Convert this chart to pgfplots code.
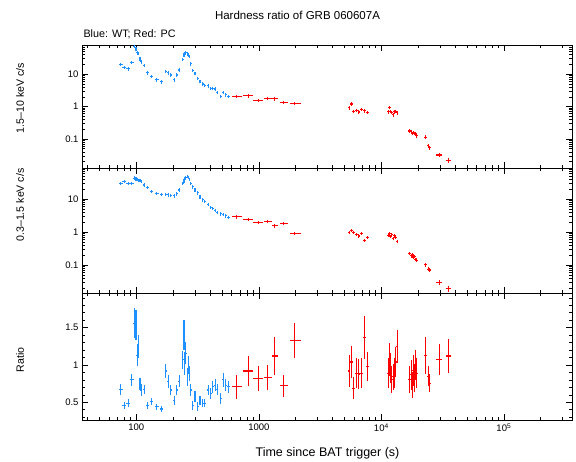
\documentclass[border=0pt]{standalone}
\usepackage{fontspec}
\setmainfont{Liberation Sans}
\usepackage{pgfplots}
\usepackage{pgfplotstable}
\pgfplotsset{compat=1.18}
\definecolor{wtblue}{RGB}{30,144,255}
\definecolor{pcred}{RGB}{255,0,0}

\pgfplotstableread{
x xe top tope mid mide r re
74.6 3 20 2.4 30 3.6 0.674 0.07
80 3 16.5 2.0 35 4.2 0.46 0.05
86 3.4 14.8 1.8 30 3.6 0.49 0.05
91.6 3.6 23 2.8 30 3.6 0.80 0.08
95.8 1.9 72 8.6 44 5.3 1.56 0.20
99.4 2 60 7.2 41 4.9 1.54 0.20
101.9 2 46 5.5 40 4.8 1.13 0.15
103.8 2 44 5.3 38 4.6 1.25 0.15
107 2 30 3.6 37 4.4 0.75 0.08
110 2.2 24 2.9 35 4.2 0.665 0.08
115.6 2.5 19 2.3 27 3.2 0.674 0.06
123 3 11 1.3 23 2.8 0.46 0.05
133.5 4 8.4 1.0 17 2.0 0.51 0.05
146.7 5 6.7 0.8 15 1.8 0.44 0.04
161 5 5.8 0.7 14 1.7 0.41 0.04
174 3.5 12.4 1.5 14 1.7 0.92 0.09
182 3.5 11 1.3 13.5 1.6 0.78 0.09
191 3.5 9.5 1.1 13.2 1.6 0.665 0.07
204 4 6.7 0.8 12.6 1.5 0.53 0.06
214 4 9.5 1.1 14.5 1.7 0.665 0.07
224 4 13.5 1.6 19 2.3 0.78 0.08
239 2.5 29 3.5 30 3.6 1.07 0.12
245 2 40 4.8 36 4.3 1.40 0.20
249 2 42 5.0 41 4.9 1.02 0.15
254 2 48 5.8 46 5.5 1.16 0.15
260 2 43 5.2 50 6.0 0.84 0.12
265 2.5 40 4.8 46 5.5 1.0 0.12
271 3 35 4.2 40 4.8 0.88 0.10
279 4 21 2.5 30 3.6 0.665 0.08
288 4 13 1.6 24 2.9 0.46 0.06
301 5 10.8 1.3 19 2.3 0.575 0.07
316 5 7.5 0.9 15.5 1.9 0.44 0.06
331 6 6.0 0.7 11.7 1.4 0.53 0.06
348 6 5.0 0.6 9.6 1.2 0.49 0.05
363 7 4.5 0.54 8.5 1.0 0.49 0.05
387 8 4.4 0.53 6.8 0.8 0.665 0.07
405 8 3.6 0.43 5.7 0.7 0.62 0.07
420 8 3.7 0.44 5.2 0.62 0.71 0.08
439 9 3.5 0.42 4.5 0.54 0.73 0.08
458 9 2.8 0.34 4.0 0.48 0.674 0.07
490 10 2.1 0.25 3.6 0.43 0.55 0.07
513 10 2.8 0.34 3.4 0.41 0.80 0.09
536 11 2.3 0.28 3.1 0.37 0.73 0.08
564 12 2.05 0.25 2.85 0.34 0.71 0.08
}\bluedata

\pgfplotstableread{
x xm xp top tope mid mide r re
660 60 67 2.03 0.25 2.9 0.35 0.71 0.16
820 73 82 2.14 0.26 2.4 0.29 0.92 0.20
987 85 88 1.55 0.19 1.97 0.24 0.82 0.17
1180 80 110 1.8 0.22 2.15 0.26 0.83 0.17
1340 70 90 1.73 0.21 1.55 0.19 1.12 0.26
1580 100 160 1.37 0.16 1.83 0.22 0.72 0.15
1970 180 220 1.27 0.15 0.91 0.11 1.33 0.23
5460 136 136 0.92 0.11 1.0 0.11 0.92 0.22
5700 140 140 1.2 0.14 1.15 0.13 1.04 0.22
5920 150 150 0.70 0.08 1.0 0.11 0.69 0.15
6250 155 155 0.76 0.09 0.86 0.10 0.89 0.2
6560 165 165 0.68 0.08 0.76 0.09 0.88 0.2
6900 170 170 0.80 0.09 0.9 0.10 0.89 0.2
7250 180 180 0.74 0.09 0.55 0.06 1.37 0.29
7700 190 190 0.67 0.08 0.70 0.08 0.98 0.2
11380 280 280 0.69 0.08 0.78 0.09 0.89 0.2
11590 290 290 0.95 0.11 0.91 0.10 1.07 0.22
11900 300 300 0.70 0.08 0.72 0.08 0.96 0.2
12180 300 300 0.66 0.08 0.82 0.09 0.80 0.18
12490 310 310 0.56 0.07 0.65 0.07 0.84 0.18
12810 320 320 0.69 0.08 0.78 0.09 0.89 0.2
13130 330 330 0.72 0.08 0.69 0.08 1.04 0.2
13450 340 340 0.65 0.08 0.52 0.06 1.25 0.22
17060 430 430 0.176 0.021 0.22 0.025 0.80 0.18
17490 440 440 0.165 0.02 0.19 0.022 0.87 0.2
17950 450 450 0.146 0.017 0.20 0.023 0.73 0.17
18290 460 460 0.158 0.019 0.17 0.02 0.93 0.2
18650 470 470 0.148 0.018 0.18 0.021 0.82 0.18
19010 480 480 0.15 0.018 0.15 0.018 1.0 0.2
19380 490 490 0.125 0.015 0.14 0.017 0.89 0.2
23070 600 600 0.113 0.016 0.10 0.014 1.13 0.25
24100 600 600 0.062 0.009 0.074 0.01 0.85 0.13
24800 600 600 0.053 0.008 0.070 0.01 0.755 0.12
29670 1500 1500 0.032 0.005 0.029 0.005 1.07 0.21
35570 1700 1700 0.022 0.004 0.019 0.004 1.12 0.23
}\reddata

\begin{document}
\begin{tikzpicture}
\useasboundingbox (0pt,0pt) rectangle (576pt,462pt);

% top panel
\begin{axis}[at={(82pt,294pt)}, anchor=south west,
  scale only axis, width=490pt, height=123pt,
  xmode=log, ymode=log,
  xmin=36, xmax=360000, ymin=0.0127, ymax=80,
  tick align=inside, major tick length=6pt, minor tick length=3pt,
  axis line style={line width=0.9pt},
  xtick={100,1000,10000,100000}, xticklabels={},
  minor xtick={40,50,60,70,80,90,200,300,400,500,600,700,800,900,2000,3000,4000,5000,6000,7000,8000,9000,20000,30000,40000,50000,60000,70000,80000,90000,200000,300000},
  ytick={0.1,1,10}, yticklabels={0.1,1,10},
  minor ytick={0.02,0.03,0.04,0.05,0.06,0.07,0.08,0.09,0.2,0.3,0.4,0.5,0.6,0.7,0.8,0.9,2,3,4,5,6,7,8,9,20,30,40,50,60,70,80},
  tick label style={font=\fontsize{9.5}{11}\selectfont},
  major tick style={line width=0.7pt, black},
  minor tick style={line width=0.6pt, black}]
\addplot[draw=none, mark=none, error bars/.cd, y dir=both, y explicit, error mark=none, error bar style={draw=wtblue, fill=none, line width=1.1pt}]
  table[x=x, y=top, y error=tope] \bluedata;
\addplot[draw=none, mark=none, error bars/.cd, x dir=both, x explicit, error mark=none, error bar style={draw=wtblue, fill=none, line width=1.1pt}]
  table[x=x, y=top, x error=xe] \bluedata;
\addplot[draw=none, mark=none, error bars/.cd, y dir=both, y explicit, error mark=none, error bar style={draw=pcred, fill=none, line width=1.1pt}]
  table[x=x, y=top, y error=tope] \reddata;
\addplot[draw=none, mark=none, error bars/.cd, x dir=both, x explicit, error mark=none, error bar style={draw=pcred, fill=none, line width=1.1pt}]
  table[x=x, y=top, x error plus=xp, x error minus=xm] \reddata;
\end{axis}

% middle panel
\begin{axis}[at={(82pt,169pt)}, anchor=south west,
  scale only axis, width=490pt, height=125pt,
  xmode=log, ymode=log,
  xmin=36, xmax=360000, ymin=0.014, ymax=89,
  tick align=inside, major tick length=6pt, minor tick length=3pt,
  axis line style={line width=0.9pt},
  xtick={100,1000,10000,100000}, xticklabels={},
  minor xtick={40,50,60,70,80,90,200,300,400,500,600,700,800,900,2000,3000,4000,5000,6000,7000,8000,9000,20000,30000,40000,50000,60000,70000,80000,90000,200000,300000},
  ytick={0.1,1,10}, yticklabels={0.1,1,10},
  minor ytick={0.02,0.03,0.04,0.05,0.06,0.07,0.08,0.09,0.2,0.3,0.4,0.5,0.6,0.7,0.8,0.9,2,3,4,5,6,7,8,9,20,30,40,50,60,70,80},
  tick label style={font=\fontsize{9.5}{11}\selectfont},
  major tick style={line width=0.7pt, black},
  minor tick style={line width=0.6pt, black}]
\addplot[draw=none, mark=none, error bars/.cd, y dir=both, y explicit, error mark=none, error bar style={draw=wtblue, fill=none, line width=1.1pt}]
  table[x=x, y=mid, y error=mide] \bluedata;
\addplot[draw=none, mark=none, error bars/.cd, x dir=both, x explicit, error mark=none, error bar style={draw=wtblue, fill=none, line width=1.1pt}]
  table[x=x, y=mid, x error=xe] \bluedata;
\addplot[draw=none, mark=none, error bars/.cd, y dir=both, y explicit, error mark=none, error bar style={draw=pcred, fill=none, line width=1.1pt}]
  table[x=x, y=mid, y error=mide] \reddata;
\addplot[draw=none, mark=none, error bars/.cd, x dir=both, x explicit, error mark=none, error bar style={draw=pcred, fill=none, line width=1.1pt}]
  table[x=x, y=mid, x error plus=xp, x error minus=xm] \reddata;
\end{axis}

% bottom panel
\begin{axis}[at={(82pt,42pt)}, anchor=south west,
  scale only axis, width=490pt, height=127pt,
  xmode=log,
  xmin=36, xmax=360000, ymin=0.263, ymax=1.965,
  tick align=inside, major tick length=6pt, minor tick length=3pt,
  axis line style={line width=0.9pt},
  xtick={100,1000,10000,100000},
  xticklabels={100,1000,10\textsuperscript{4},10\textsuperscript{5}},
  minor xtick={40,50,60,70,80,90,200,300,400,500,600,700,800,900,2000,3000,4000,5000,6000,7000,8000,9000,20000,30000,40000,50000,60000,70000,80000,90000,200000,300000},
  ytick={0.5,1,1.5}, yticklabels={0.5,1,1.5},
  minor ytick={0.3,0.4,0.6,0.7,0.8,0.9,1.1,1.2,1.3,1.4,1.6,1.7,1.8,1.9},
  tick label style={font=\fontsize{9.5}{11}\selectfont},
  major tick style={line width=0.7pt, black},
  minor tick style={line width=0.6pt, black}]
\addplot[draw=none, mark=none, error bars/.cd, y dir=both, y explicit, error mark=none, error bar style={draw=wtblue, fill=none, line width=1.1pt}]
  table[x=x, y=r, y error=re] \bluedata;
\addplot[draw=none, mark=none, error bars/.cd, x dir=both, x explicit, error mark=none, error bar style={draw=wtblue, fill=none, line width=1.1pt}]
  table[x=x, y=r, x error=xe] \bluedata;
\addplot[draw=none, mark=none, error bars/.cd, y dir=both, y explicit, error mark=none, error bar style={draw=pcred, fill=none, line width=1.1pt}]
  table[x=x, y=r, y error=re] \reddata;
\addplot[draw=none, mark=none, error bars/.cd, x dir=both, x explicit, error mark=none, error bar style={draw=pcred, fill=none, line width=1.1pt}]
  table[x=x, y=r, x error plus=xp, x error minus=xm] \reddata;
\end{axis}

\node[font=\fontsize{11.5}{13}\selectfont] at (297.5pt,447pt) {Hardness ratio of GRB 060607A};
\node[font=\fontsize{10.8}{13}\selectfont, anchor=west] at (80pt,428pt) {Blue: WT; Red: PC};
\node[font=\fontsize{10.6}{13}\selectfont, rotate=90] at (20pt,364pt) {1.5–10 keV c/s};
\node[font=\fontsize{10.6}{13}\selectfont, rotate=90] at (20pt,257pt) {0.3–1.5 keV c/s};
\node[font=\fontsize{10.6}{13}\selectfont, rotate=90] at (20pt,102pt) {Ratio};
\node[font=\fontsize{12.5}{14}\selectfont] at (327.5pt,9pt) {Time since BAT trigger (s)};
\end{tikzpicture}
\end{document}
